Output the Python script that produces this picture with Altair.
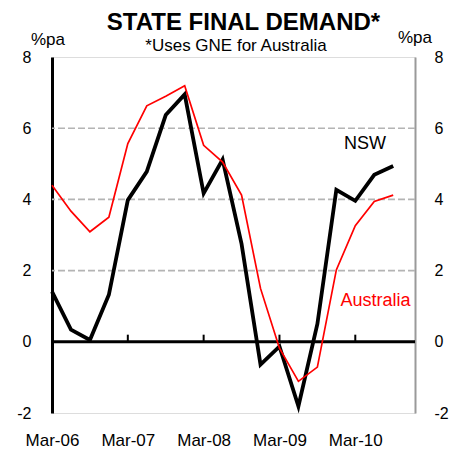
import altair as alt
import pandas as pd

quarters = ["Mar-06","Jun-06","Sep-06","Dec-06","Mar-07","Jun-07","Sep-07","Dec-07",
            "Mar-08","Jun-08","Sep-08","Dec-08","Mar-09","Jun-09","Sep-09","Dec-09",
            "Mar-10","Jun-10","Sep-10"]
nsw = [1.41, 0.34, 0.05, 1.32, 3.98, 4.78, 6.37, 6.95, 4.17, 5.12, 2.75, -0.64,
       -0.13, -1.81, 0.5, 4.27, 3.96, 4.69, 4.94]
aus = [4.40, 3.67, 3.09, 3.50, 5.57, 6.63, 6.90, 7.19, 5.52, 5.05, 4.12, 1.50,
       -0.18, -1.11, -0.71, 2.02, 3.26, 3.94, 4.12]
tick_labels = ["Mar-06", "Mar-07", "Mar-08", "Mar-09", "Mar-10"]
tick_idx = [0, 4, 8, 12, 16]
y_ticks = [-2, 0, 2, 4, 6, 8]
grid_vals = [2, 4, 6]
series_labels = ["NSW", "Australia"]
label_pos_x = [16.51, 17.07]
label_pos_y = [5.57, 1.16]
label_colors = ["#000000", "#FF0000"]
title_text = ["STATE FINAL DEMAND*"]
subtitle_text = ["*Uses GNE for Australia"]
unit_text = ["%pa"]

FONT = "Liberation Sans"
rows = []
for i, q in enumerate(quarters):
    rows.append({"i": i, "q": q, "v": nsw[i], "s": "NSW"})
    rows.append({"i": i, "q": q, "v": aus[i], "s": "Australia"})
df = pd.DataFrame(rows)

label_expr = "{" + ",".join(f"'{k}':'{v}'" for k, v in zip(tick_idx, tick_labels)) + "}[datum.value]"

xscale = alt.Scale(domain=[0, 19.15], nice=False, zero=False)
yscale = alt.Scale(domain=[-2, 8], nice=False)

xaxis = alt.Axis(values=tick_idx, labelExpr=label_expr, title=None, domain=False,
                 ticks=False, grid=False, labelFont=FONT, labelFontSize=17,
                 labelColor="#000", labelBaseline="alphabetic", labelPadding=32,
                 labelOverlap=False, labelFlush=False, labelBound=False)

yenc = alt.Y("v:Q", scale=yscale,
             axis=alt.Axis(values=y_ticks, title=None, labelExpr="toString(datum.value)",
                           grid=False, ticks=False, domainColor="#000", domainWidth=3,
                           labelFont=FONT, labelFontSize=16, labelColor="#000",
                           labelPadding=21))

grid_df = pd.DataFrame({"g": grid_vals})
grid = alt.Chart(grid_df).mark_rule(color="#B4B4B4", strokeDash=[7, 3], strokeWidth=1.6).encode(
    y=alt.Y("g:Q", scale=yscale, axis=None))

zero = alt.Chart(pd.DataFrame({"z": [0]})).mark_rule(color="#000", strokeWidth=3).encode(
    y=alt.Y("z:Q", scale=yscale, axis=None))

ticks_df = pd.DataFrame({"t": tick_idx[1:], "y0": [0] * 4, "y1": [0.2] * 4})
xticks = alt.Chart(ticks_df).mark_rule(color="#000", strokeWidth=2).encode(
    x=alt.X("t:Q", scale=xscale, axis=xaxis),
    y=alt.Y("y0:Q", scale=yscale, axis=None), y2="y1:Q")

lines = alt.Chart(df).mark_line(strokeJoin="miter").encode(
    x=alt.X("i:Q", scale=xscale, axis=xaxis),
    y=yenc,
    color=alt.Color("s:N", scale=alt.Scale(domain=["NSW", "Australia"], range=["#000000", "#FF0000"]), legend=None),
    strokeWidth=alt.StrokeWidth("s:N", scale=alt.Scale(domain=["NSW", "Australia"], range=[3.8, 1.7]), legend=None),
    order=alt.Order("i:Q"))

right = alt.Chart(df).mark_point(opacity=0).encode(
    y=alt.Y("v:Q", scale=yscale,
            axis=alt.Axis(orient="right", values=y_ticks, title=None, labelExpr="toString(datum.value)",
                          grid=False, ticks=False, domainColor="#9A9A9A", domainWidth=2,
                          labelFont=FONT, labelFontSize=16, labelColor="#000",
                          labelPadding=19)))

lab_df = pd.DataFrame({"t": series_labels, "x": label_pos_x, "y": label_pos_y, "c": label_colors})
labels = alt.Chart(lab_df).mark_text(font=FONT, fontSize=18).encode(
    x=alt.X("x:Q", scale=xscale, axis=xaxis),
    y=alt.Y("y:Q", scale=yscale, axis=None),
    text="t:N", color=alt.Color("c:N", scale=None))

title = alt.Chart(pd.DataFrame({"t": title_text})).mark_text(
    font=FONT, fontSize=24, fontWeight="bold", color="#000", baseline="alphabetic", align="center"
).encode(text="t:N", x=alt.value(191.5), y=alt.value(-27))

subtitle = alt.Chart(pd.DataFrame({"t": subtitle_text})).mark_text(
    font=FONT, fontSize=17, color="#000", baseline="alphabetic", align="center"
).encode(text="t:N", x=alt.value(184), y=alt.value(-6))

unit_left = alt.Chart(pd.DataFrame({"t": unit_text})).mark_text(
    font=FONT, fontSize=17, color="#000", baseline="alphabetic", align="center"
).encode(text="t:N", x=alt.value(-4), y=alt.value(-12))

unit_right = alt.Chart(pd.DataFrame({"t": unit_text})).mark_text(
    font=FONT, fontSize=17, color="#000", baseline="alphabetic", align="center"
).encode(text="t:N", x=alt.value(363), y=alt.value(-14))

chart = alt.layer(grid, zero, xticks, lines, labels, title, subtitle, unit_left, unit_right, right
).resolve_scale(y="independent").properties(
    width=363, height=356,
    autosize=alt.AutoSizeParams(type="none"),
    padding={"left": 44, "top": 49, "right": 34, "bottom": 36},
).configure_view(stroke="#A0A0A0", strokeWidth=1.6).configure(background="white")

chart.save("out.html", embed_options={"renderer": "svg", "actions": False})
